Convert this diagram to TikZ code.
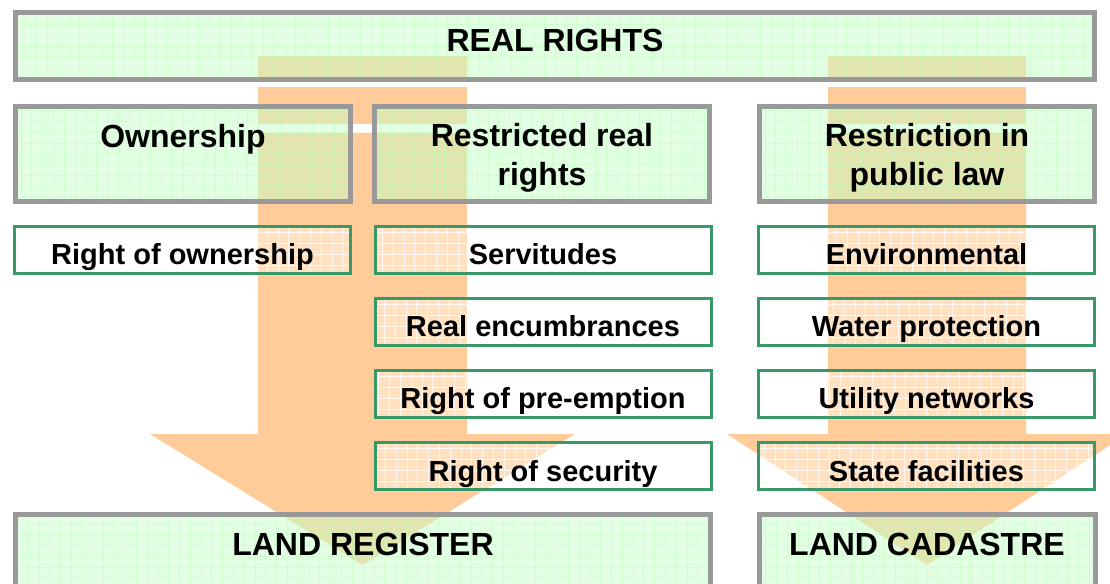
\documentclass[tikz,border=0pt]{standalone}
\usepackage{fontspec}
\setmainfont{Liberation Sans}
\definecolor{arrowfill}{RGB}{255,204,153}
\definecolor{boxgreen}{RGB}{200,255,200}
\definecolor{boxgray}{RGB}{153,153,153}
\definecolor{itemgreen}{RGB}{56,152,104}
\tikzset{
  bigbox/.style={draw=boxgray, line width=3.75pt, fill=boxgreen, fill opacity=0.5,
    minimum width=251.25pt, minimum height=71.25pt, inner sep=0pt,
    path picture={\draw[green!30, line width=0.6pt, draw opacity=0.4]
      (path picture bounding box.south west) grid[step=8.1pt] (path picture bounding box.north east);}},
  itembox/.style={draw=itemgreen, line width=2.25pt, fill=white, fill opacity=0.4, text opacity=1,
    minimum width=252pt, minimum height=35.25pt, inner sep=0pt,
    font=\bfseries\fontsize{21.75}{26}\selectfont, text height=22.5pt, text depth=0pt,
    path picture={\draw[white, line width=0.6pt, draw opacity=0.8]
      (path picture bounding box.south west) grid[step=8.1pt] (path picture bounding box.north east);}},
  bigtxt/.style={font=\bfseries\fontsize{24}{29.25}\selectfont, align=center, inner sep=0pt, anchor=base}
}
\begin{document}
\begin{tikzpicture}[x=0.75pt,y=0.75pt,yscale=-1,xscale=1]
  \useasboundingbox (0,0) rectangle (1110,584);

  %Shape: Down Arrow, land register
  \fill [arrowfill] (258,56) rectangle (467,82) ;
  \fill [arrowfill] (258,87) rectangle (467,124) ;
  \fill [arrowfill] (258,133) -- (467,133) -- (467,434) -- (575,434) -- (362.5,565) -- (150,434) -- (258,434) -- cycle ;
  %Shape: Down Arrow, land cadastre
  \fill [arrowfill] (828,56) rectangle (1026,82) ;
  \fill [arrowfill] (828,87) rectangle (1026,124) ;
  \fill [arrowfill] (828,133) -- (1026,133) -- (1026,434) -- (1127,434) -- (927,565) -- (727,434) -- (828,434) -- cycle ;

  %Shape: Rectangle, headings
  \node (real) [bigbox, minimum width=809.25pt, minimum height=50.25pt] at (555,46) {};
  \node (own) [bigbox] at (183,154) {};
  \node (restr) [bigbox] at (542,154) {};
  \node (publ) [bigbox] at (927,154) {};
  \node (reg) [bigbox, minimum width=521.25pt, minimum height=78.75pt] at (363,567) {};
  \node (cad) [bigbox, minimum width=252pt, minimum height=78.75pt] at (927.5,567) {};

  %Shape: Rectangle, items
  \node (rown) [itembox] at (182.5,250) {Right of ownership};
  \node (serv) [itembox] at (543,250) {Servitudes};
  \node (enc) [itembox] at (543,322) {Real encumbrances};
  \node (pre) [itembox] at (543,394) {Right of pre-emption};
  \node (sec) [itembox] at (543,466) {Right of security};
  \node (env) [itembox] at (926.5,250) {Environmental};
  \node (wat) [itembox] at (926.5,322) {Water protection};
  \node (util) [itembox] at (926.5,394) {Utility networks};
  \node (state) [itembox] at (926.5,466) {State facilities};

  % Text Node
  \node (realt) [bigtxt] at (555,52) {REAL RIGHTS};
  % Text Node
  \node (ownt) [bigtxt] at (183,148) {Ownership};
  % Text Node
  \node (restrt) [bigtxt] at (542,186) {Restricted real\\rights};
  % Text Node
  \node (publt) [bigtxt] at (927,186) {Restriction in\\public law};
  % Text Node
  \node (regt) [bigtxt] at (363,555) {LAND REGISTER};
  % Text Node
  \node (cadt) [bigtxt] at (927,555) {LAND CADASTRE};

\end{tikzpicture}
\end{document}
